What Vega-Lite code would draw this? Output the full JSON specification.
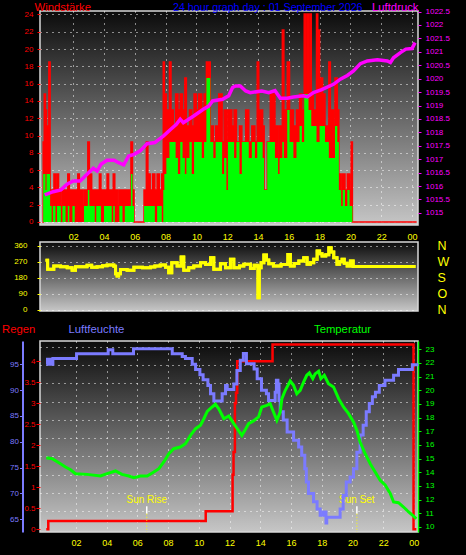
{
  "$schema": "https://vega.github.io/schema/vega-lite/v6.json",
  "background": "#000000",
  "padding": {"left": 0, "top": 0, "right": 21, "bottom": 8},
  "datasets": {
    "wind": [
      {"t":0.0,"g":0,"a":0},{"t":0.05,"g":9.25,"a":5.55},{"t":0.12,"g":14.8,"a":5.55},{"t":0.2,"g":12.95,"a":3.7},{"t":0.27,"g":11.1,"a":5.55},{"t":0.35,"g":5.55,"a":5.55},{"t":0.42,"g":18.5,"a":5.55},{"t":0.5,"g":3.7,"a":1.85},{"t":0.6,"g":1.85,"a":0},{"t":0.68,"g":3.7,"a":1.85},{"t":0.75,"g":5.55,"a":1.85},{"t":0.85,"g":3.7,"a":0},{"t":0.95,"g":5.55,"a":1.85},{"t":1.05,"g":3.7,"a":1.85},{"t":1.2,"g":1.85,"a":0},{"t":1.3,"g":3.7,"a":1.85},{"t":1.5,"g":3.7,"a":0},{"t":1.65,"g":5.55,"a":1.85},{"t":1.75,"g":3.7,"a":0},{"t":1.95,"g":3.7,"a":1.85},{"t":2.1,"g":3.7,"a":0},{"t":2.3,"g":5.55,"a":0},{"t":2.4,"g":3.7,"a":0},{"t":2.6,"g":1.85,"a":0},{"t":2.7,"g":3.7,"a":1.85},{"t":2.95,"g":9.25,"a":3.7},{"t":3.05,"g":5.55,"a":1.85},{"t":3.2,"g":3.7,"a":1.85},{"t":3.4,"g":3.7,"a":0},{"t":3.5,"g":3.7,"a":1.85},{"t":3.7,"g":5.55,"a":1.85},{"t":3.8,"g":3.7,"a":0},{"t":4.0,"g":3.7,"a":1.85},{"t":4.2,"g":5.55,"a":1.85},{"t":4.3,"g":3.7,"a":1.85},{"t":4.5,"g":3.7,"a":0},{"t":4.6,"g":5.55,"a":1.85},{"t":4.7,"g":3.7,"a":0},{"t":4.9,"g":1.85,"a":0},{"t":5.0,"g":3.7,"a":1.85},{"t":5.2,"g":3.7,"a":0},{"t":5.35,"g":3.7,"a":1.85},{"t":5.6,"g":3.7,"a":1.85},{"t":5.75,"g":9.25,"a":5.55},{"t":5.85,"g":3.7,"a":1.85},{"t":5.95,"g":0,"a":0},{"t":6.6,"g":3.7,"a":1.85},{"t":6.75,"g":9.25,"a":1.85},{"t":6.85,"g":5.55,"a":1.85},{"t":7.0,"g":3.7,"a":1.85},{"t":7.15,"g":5.55,"a":1.85},{"t":7.3,"g":3.7,"a":0},{"t":7.45,"g":5.55,"a":1.85},{"t":7.6,"g":3.7,"a":1.85},{"t":7.75,"g":5.55,"a":0},{"t":7.85,"g":18.5,"a":3.7},{"t":7.92,"g":14.8,"a":5.55},{"t":8.05,"g":12.95,"a":7.4},{"t":8.25,"g":18.5,"a":9.25},{"t":8.35,"g":12.95,"a":9.25},{"t":8.5,"g":11.1,"a":9.25},{"t":8.65,"g":14.8,"a":7.4},{"t":8.8,"g":12.95,"a":5.55},{"t":8.95,"g":14.8,"a":9.25},{"t":9.1,"g":12.95,"a":7.4},{"t":9.25,"g":16.65,"a":5.55},{"t":9.35,"g":11.1,"a":7.4},{"t":9.55,"g":12.95,"a":9.25},{"t":9.7,"g":11.1,"a":5.55},{"t":9.85,"g":14.8,"a":9.25},{"t":10.0,"g":12.95,"a":9.25},{"t":10.15,"g":14.8,"a":9.25},{"t":10.35,"g":12.95,"a":7.4},{"t":10.5,"g":14.8,"a":9.25},{"t":10.65,"g":18.5,"a":16.65},{"t":10.9,"g":11.1,"a":9.25},{"t":11.1,"g":9.25,"a":7.4},{"t":11.25,"g":11.1,"a":9.25},{"t":11.45,"g":14.8,"a":9.25},{"t":11.67,"g":9.25,"a":5.55},{"t":11.8,"g":12.95,"a":7.4},{"t":11.95,"g":3.7,"a":3.7},{"t":12.05,"g":12.95,"a":9.25},{"t":12.3,"g":11.1,"a":9.25},{"t":12.45,"g":12.95,"a":7.4},{"t":12.6,"g":9.25,"a":9.25},{"t":12.8,"g":11.1,"a":5.55},{"t":12.95,"g":9.25,"a":9.25},{"t":13.2,"g":12.95,"a":9.25},{"t":13.4,"g":9.25,"a":7.4},{"t":13.6,"g":11.1,"a":9.25},{"t":13.8,"g":9.25,"a":7.4},{"t":13.95,"g":18.5,"a":9.25},{"t":14.05,"g":12.95,"a":9.25},{"t":14.3,"g":11.1,"a":7.4},{"t":14.4,"g":3.7,"a":3.7},{"t":14.6,"g":9.25,"a":9.25},{"t":14.8,"g":14.8,"a":9.25},{"t":15.1,"g":11.1,"a":7.4},{"t":15.3,"g":5.55,"a":5.55},{"t":15.4,"g":11.1,"a":7.4},{"t":15.58,"g":22.2,"a":9.25},{"t":15.68,"g":12.95,"a":7.4},{"t":15.9,"g":18.5,"a":12.95},{"t":16.05,"g":12.95,"a":9.25},{"t":16.3,"g":11.1,"a":7.4},{"t":16.5,"g":12.95,"a":9.25},{"t":16.7,"g":14.8,"a":11.1},{"t":16.85,"g":12.95,"a":9.25},{"t":17.0,"g":24.05,"a":14.8},{"t":17.1,"g":14.8,"a":14.8},{"t":17.2,"g":24.05,"a":14.8},{"t":17.28,"g":14.8,"a":12.95},{"t":17.38,"g":24.05,"a":12.95},{"t":17.46,"g":14.8,"a":11.1},{"t":17.6,"g":12.95,"a":11.1},{"t":17.8,"g":24.05,"a":9.25},{"t":17.88,"g":14.8,"a":9.25},{"t":17.93,"g":22.2,"a":9.25},{"t":18.0,"g":16.65,"a":11.1},{"t":18.2,"g":14.8,"a":11.1},{"t":18.35,"g":11.1,"a":9.25},{"t":18.6,"g":18.5,"a":7.4},{"t":18.7,"g":12.95,"a":7.4},{"t":18.9,"g":11.1,"a":7.4},{"t":19.0,"g":16.65,"a":11.1},{"t":19.15,"g":12.95,"a":9.25},{"t":19.25,"g":5.55,"a":3.7},{"t":19.4,"g":1.85,"a":1.85},{"t":19.5,"g":5.55,"a":3.7},{"t":19.65,"g":3.7,"a":1.85},{"t":19.8,"g":5.55,"a":3.7},{"t":19.95,"g":3.7,"a":1.85},{"t":20.05,"g":9.25,"a":1.85},{"t":20.13,"g":0,"a":0},{"t":24.3,"g":0,"a":0}
    ],
    "pressure": [
      {"t":0.15,"p":1015.67},{"t":0.7,"p":1015.79},{"t":1.2,"p":1015.86},{"t":1.6,"p":1016.07},{"t":2.0,"p":1016.19},{"t":2.45,"p":1016.19},{"t":2.9,"p":1016.44},{"t":3.3,"p":1016.66},{"t":3.55,"p":1016.56},{"t":3.8,"p":1016.81},{"t":4.2,"p":1016.96},{"t":4.65,"p":1016.96},{"t":4.95,"p":1016.87},{"t":5.28,"p":1016.79},{"t":5.6,"p":1017.12},{"t":5.95,"p":1017.18},{"t":6.35,"p":1017.31},{"t":6.8,"p":1017.58},{"t":7.3,"p":1017.62},{"t":7.87,"p":1017.87},{"t":8.3,"p":1018.1},{"t":8.7,"p":1018.3},{"t":8.95,"p":1018.49},{"t":9.15,"p":1018.36},{"t":9.8,"p":1018.6},{"t":10.45,"p":1018.86},{"t":10.8,"p":1018.98},{"t":11.05,"p":1019.17},{"t":11.7,"p":1019.23},{"t":12.1,"p":1019.36},{"t":12.35,"p":1019.67},{"t":12.55,"p":1019.73},{"t":12.85,"p":1019.73},{"t":13.2,"p":1019.54},{"t":13.5,"p":1019.48},{"t":14.25,"p":1019.54},{"t":14.7,"p":1019.48},{"t":15.1,"p":1019.56},{"t":15.45,"p":1019.27},{"t":15.9,"p":1019.27},{"t":16.3,"p":1019.32},{"t":16.95,"p":1019.36},{"t":17.2,"p":1019.32},{"t":17.6,"p":1019.48},{"t":18.1,"p":1019.58},{"t":18.9,"p":1019.79},{"t":19.35,"p":1019.98},{"t":19.8,"p":1020.12},{"t":20.2,"p":1020.29},{"t":20.65,"p":1020.56},{"t":21.1,"p":1020.66},{"t":21.75,"p":1020.7},{"t":22.4,"p":1020.66},{"t":22.6,"p":1020.6},{"t":22.8,"p":1020.78},{"t":23.25,"p":1020.97},{"t":23.6,"p":1021.1},{"t":24.0,"p":1021.12},{"t":24.2,"p":1021.34}
    ],
    "dir": [
      {"t":0.2,"d":278},{"t":0.34,"d":228},{"t":0.74,"d":246},{"t":1.18,"d":242},{"t":1.61,"d":237},{"t":1.93,"d":222},{"t":2.15,"d":242},{"t":2.9,"d":250},{"t":3.2,"d":240},{"t":3.55,"d":242},{"t":3.9,"d":248},{"t":4.2,"d":252},{"t":4.64,"d":245},{"t":4.75,"d":203},{"t":4.85,"d":190},{"t":4.95,"d":203},{"t":5.07,"d":227},{"t":5.5,"d":222},{"t":5.94,"d":240},{"t":6.5,"d":236},{"t":7.02,"d":241},{"t":7.3,"d":246},{"t":7.65,"d":252},{"t":8.0,"d":240},{"t":8.2,"d":209},{"t":8.4,"d":265},{"t":8.75,"d":246},{"t":9.01,"d":297},{"t":9.18,"d":222},{"t":9.5,"d":237},{"t":9.83,"d":246},{"t":10.27,"d":265},{"t":10.6,"d":255},{"t":10.92,"d":293},{"t":11.13,"d":228},{"t":11.56,"d":259},{"t":11.89,"d":237},{"t":12.21,"d":284},{"t":12.43,"d":237},{"t":12.8,"d":246},{"t":13.08,"d":256},{"t":13.51,"d":233},{"t":13.75,"d":250},{"t":13.95,"d":246},{"t":14.0,"d":69},{"t":14.08,"d":237},{"t":14.2,"d":265},{"t":14.38,"d":308},{"t":14.55,"d":280},{"t":14.7,"d":259},{"t":15.0,"d":246},{"t":15.25,"d":246},{"t":15.5,"d":255},{"t":15.94,"d":311},{"t":16.1,"d":246},{"t":16.35,"d":260},{"t":16.65,"d":274},{"t":16.97,"d":293},{"t":17.19,"d":256},{"t":17.4,"d":265},{"t":17.62,"d":284},{"t":17.84,"d":330},{"t":18.0,"d":315},{"t":18.16,"d":302},{"t":18.4,"d":310},{"t":18.6,"d":349},{"t":18.75,"d":325},{"t":18.92,"d":293},{"t":19.13,"d":256},{"t":19.3,"d":270},{"t":19.46,"d":284},{"t":19.6,"d":262},{"t":19.79,"d":246},{"t":20.0,"d":274},{"t":20.18,"d":244},{"t":24.23,"d":244}
    ],
    "rain": [
      {"t":0.07,"r":0},{"t":0.2,"r":0.2},{"t":10.45,"r":0.43},{"t":12.2,"r":1.3},{"t":12.26,"r":1.84},{"t":12.35,"r":3.0},{"t":12.42,"r":3.25},{"t":12.5,"r":4.0},{"t":14.8,"r":4.4},{"t":23.98,"r":0},{"t":24.16,"r":0}
    ],
    "hum": [
      {"t":0.07,"h":95},{"t":0.15,"h":96},{"t":0.22,"h":95},{"t":0.3,"h":96},{"t":0.37,"h":95},{"t":0.5,"h":96.1},{"t":2.04,"h":97.05},{"t":4.1,"h":97.8},{"t":4.4,"h":97.05},{"t":5.75,"h":98},{"t":8.27,"h":97.05},{"t":8.92,"h":96.5},{"t":9.13,"h":96.1},{"t":9.57,"h":95},{"t":9.79,"h":94},{"t":10.07,"h":93},{"t":10.28,"h":92},{"t":10.59,"h":90.9},{"t":10.76,"h":89.3},{"t":10.98,"h":87.9},{"t":11.52,"h":89.3},{"t":11.74,"h":90.9},{"t":11.85,"h":90.1},{"t":12.28,"h":91.2},{"t":12.48,"h":93.8},{"t":12.7,"h":95.8},{"t":12.9,"h":97.1},{"t":13.1,"h":95.1},{"t":13.6,"h":94.1},{"t":13.8,"h":92.2},{"t":14.08,"h":90},{"t":14.4,"h":89.3},{"t":14.54,"h":88},{"t":14.97,"h":89.6},{"t":15.05,"h":91.9},{"t":15.15,"h":91.2},{"t":15.22,"h":88},{"t":15.3,"h":85.8},{"t":15.5,"h":84.2},{"t":15.75,"h":81.9},{"t":16.17,"h":80.3},{"t":16.5,"h":79},{"t":16.7,"h":77.4},{"t":16.9,"h":74.8},{"t":17.0,"h":72.2},{"t":17.14,"h":70},{"t":17.47,"h":68.4},{"t":17.7,"h":67},{"t":17.9,"h":65.8},{"t":18.1,"h":66.4},{"t":18.28,"h":64.3},{"t":18.33,"h":65.4},{"t":19.2,"h":67},{"t":19.4,"h":69.6},{"t":19.6,"h":72.2},{"t":19.85,"h":73.2},{"t":20.07,"h":74.8},{"t":20.29,"h":78},{"t":20.5,"h":81.3},{"t":20.7,"h":83.2},{"t":20.9,"h":85.8},{"t":21.1,"h":87.4},{"t":21.3,"h":88.7},{"t":21.5,"h":89.6},{"t":21.75,"h":90.9},{"t":22.12,"h":91.9},{"t":22.68,"h":92.9},{"t":23.0,"h":94},{"t":23.9,"h":94.9},{"t":24.3,"h":94.9}
    ],
    "temp": [
      {"t":0.07,"T":15.07},{"t":0.46,"T":15.0},{"t":0.89,"T":14.7},{"t":1.32,"T":14.39},{"t":1.65,"T":14.19},{"t":1.97,"T":13.9},{"t":2.73,"T":13.85},{"t":3.6,"T":13.73},{"t":4.03,"T":13.9},{"t":4.58,"T":14.1},{"t":5.0,"T":13.85},{"t":5.44,"T":13.73},{"t":5.77,"T":13.6},{"t":6.2,"T":13.73},{"t":6.64,"T":13.73},{"t":7.07,"T":14.02},{"t":7.4,"T":14.27},{"t":7.72,"T":14.76},{"t":8.05,"T":15.36},{"t":8.37,"T":15.73},{"t":8.8,"T":15.85},{"t":9.13,"T":16.09},{"t":9.46,"T":16.7},{"t":9.79,"T":17.19},{"t":10.11,"T":17.44},{"t":10.33,"T":17.92},{"t":10.55,"T":18.46},{"t":10.87,"T":18.78},{"t":11.08,"T":18.98},{"t":11.3,"T":18.65},{"t":11.63,"T":17.92},{"t":11.95,"T":18.12},{"t":12.28,"T":17.56},{"t":12.47,"T":17.24},{"t":12.8,"T":16.7},{"t":13.0,"T":17.07},{"t":13.24,"T":17.56},{"t":13.56,"T":17.76},{"t":13.89,"T":18.05},{"t":14.1,"T":18.78},{"t":14.43,"T":18.9},{"t":14.65,"T":19.02},{"t":14.86,"T":18.41},{"t":15.08,"T":17.8},{"t":15.3,"T":18.41},{"t":15.41,"T":19.39},{"t":15.63,"T":20.0},{"t":15.95,"T":20.68},{"t":16.17,"T":20.37},{"t":16.38,"T":19.75},{"t":16.6,"T":20.0},{"t":16.82,"T":20.6},{"t":17.03,"T":21.1},{"t":17.2,"T":21.27},{"t":17.42,"T":20.85},{"t":17.57,"T":21.2},{"t":17.8,"T":21.39},{"t":17.95,"T":20.85},{"t":18.17,"T":21.1},{"t":18.44,"T":20.48},{"t":18.77,"T":20.24},{"t":19.1,"T":19.39},{"t":19.42,"T":18.78},{"t":19.75,"T":18.29},{"t":20.07,"T":17.68},{"t":20.29,"T":17.07},{"t":20.5,"T":16.22},{"t":20.83,"T":15.36},{"t":21.16,"T":14.63},{"t":21.48,"T":14.02},{"t":21.81,"T":13.42},{"t":22.14,"T":13.05},{"t":22.47,"T":12.44},{"t":22.68,"T":11.83},{"t":23.0,"T":11.78},{"t":23.33,"T":11.46},{"t":23.66,"T":11.1},{"t":23.98,"T":10.8},{"t":24.16,"T":10.6}
    ],
    "sun": [
      {"t":6.61,"label":"Sun Rise"},{"t":20.29,"label":"Sun Set"}
    ]
  },
  "vconcat": [
    {
      "vconcat": [
        {
          "width": 378,
          "height": 214,
          "layer": [
            {
              "data": {"name": "wind"},
              "mark": {"type": "area", "color": "#ff0000", "interpolate": "step-after"},
              "encoding": {
                "x": {"field": "t", "type": "quantitative", "scale": {"domain": [-0.156, 24.39], "nice": false, "zero": false},
                  "axis": {"orient": "bottom", "values": [2,4,6,8,10,12,14,16,18,20,22,24], "labelExpr": "datum.value == 24 ? '00' : (datum.value < 10 ? '0' + datum.value : '' + datum.value)", "labelColor": "#ffff00", "labelFontSize": 9, "labelPadding": 7, "ticks": false, "domain": false, "grid": true, "title": null}},
                "y": {"field": "g", "type": "quantitative", "scale": {"domain": [-0.35, 24.4], "nice": false, "zero": false},
                  "axis": {"values": [0,2,4,6,8,10,12,14,16,18,20,22,24], "labelColor": "#ff0000", "labelFontSize": 8, "tickColor": "#ff0000", "tickSize": 3, "labelPadding": 4, "domain": false, "grid": true, "title": "Windstärke", "titleColor": "#ff0000", "titleFontSize": 11.3, "titleAngle": 0, "titleAlign": "left", "titleBaseline": "alphabetic", "titleX": -6, "titleY": -1}},
                "y2": {"datum": 0}
              }
            },
            {
              "data": {"name": "wind"},
              "mark": {"type": "line", "color": "#ff0000", "strokeWidth": 1.5, "interpolate": "step-after"},
              "encoding": {
                "x": {"field": "t", "type": "quantitative", "axis": null},
                "y": {"field": "g", "type": "quantitative", "scale": {"domain": [-0.35, 24.4], "nice": false, "zero": false}, "axis": null}
              }
            },
            {
              "data": {"name": "wind"},
              "mark": {"type": "area", "color": "#00ff00", "interpolate": "step-after"},
              "encoding": {
                "x": {"field": "t", "type": "quantitative", "axis": null},
                "y": {"field": "a", "type": "quantitative", "scale": {"domain": [-0.35, 24.4], "nice": false, "zero": false}, "axis": null},
                "y2": {"datum": 0}
              }
            },
            {
              "data": {"name": "pressure"},
              "mark": {"type": "line", "color": "#ff00ff", "strokeWidth": 3.5},
              "encoding": {
                "x": {"field": "t", "type": "quantitative",
                  "axis": {"orient": "top", "labels": false, "ticks": false, "domain": false, "grid": false, "title": "24 hour graph day : 01 September 2026", "titleColor": "#0000ff", "titleFontSize": 10.7, "titleAlign": "left", "titleBaseline": "alphabetic", "titleX": 132.5, "titleY": -1}},
                "y": {"field": "p", "type": "quantitative", "scale": {"domain": [1014.55, 1022.52], "nice": false, "zero": false},
                  "axis": {"orient": "right", "values": [1015,1015.5,1016,1016.5,1017,1017.5,1018,1018.5,1019,1019.5,1020,1020.5,1021,1021.5,1022,1022.5], "format": ".1~f", "labelColor": "#ff00ff", "labelFontSize": 8, "tickColor": "#ff00ff", "tickSize": 3, "labelPadding": 4, "domain": false, "grid": false, "title": "Luftdruck", "titleColor": "#ff00ff", "titleFontSize": 11.3, "titleAngle": 0, "titleAlign": "left", "titleBaseline": "alphabetic", "titleX": -46.5, "titleY": -1}}
              }
            }
          ],
          "resolve": {"scale": {"y": "independent"}}
        },
        {
          "width": 378,
          "height": 69,
          "data": {"name": "dir"},
          "layer": [
            {
              "mark": {"type": "line", "color": "#ffff00", "strokeWidth": 3, "interpolate": "step-after"},
              "encoding": {
                "x": {"field": "t", "type": "quantitative", "scale": {"domain": [-0.156, 24.39], "nice": false, "zero": false}, "axis": null},
                "y": {"field": "d", "type": "quantitative", "scale": {"domain": [-5.6, 380.7], "nice": false, "zero": false},
                  "axis": {"values": [0,90,180,270,360], "labelColor": "#ffff00", "labelFontSize": 8, "tickColor": "#ffff00", "tickSize": 3, "labelPadding": 10, "domain": false, "grid": true, "title": null}}
              }
            },
            {
              "mark": {"type": "line", "color": "#ffff00", "strokeWidth": 3, "interpolate": "step-after"},
              "encoding": {
                "x": {"field": "t", "type": "quantitative", "axis": null},
                "y": {"field": "d", "type": "quantitative",
                  "axis": {"orient": "right", "values": [0,90,180,270,360], "labelExpr": "datum.value == 270 ? 'W' : datum.value == 180 ? 'S' : datum.value == 90 ? 'O' : 'N'", "labelColor": "#ffff00", "labelFontSize": 12.5, "ticks": false, "labelPadding": 19, "domain": false, "grid": false, "title": null}}
              }
            }
          ],
          "resolve": {"axis": {"y": "independent"}}
        }
      ],
      "spacing": 17,
      "bounds": "flush"
    },
    {
      "width": 378,
      "height": 191,
      "layer": [
        {
          "data": {"name": "rain"},
          "mark": {"type": "line", "color": "#ff0000", "strokeWidth": 2.5, "interpolate": "step-after"},
          "encoding": {
            "x": {"field": "t", "type": "quantitative", "scale": {"domain": [-0.339, 24.27], "nice": false, "zero": false},
              "axis": {"orient": "bottom", "values": [2,4,6,8,10,12,14,16,18,20,22,24], "labelExpr": "datum.value == 24 ? '00' : (datum.value < 10 ? '0' + datum.value : '' + datum.value)", "labelColor": "#ffff00", "labelFontSize": 9, "labelPadding": 6, "ticks": false, "domain": false, "grid": true, "title": null}},
            "y": {"field": "r", "type": "quantitative", "scale": {"domain": [-0.064, 4.483], "nice": false, "zero": false},
              "axis": {"values": [0,0.5,1,1.5,2,2.5,3,3.5,4], "format": ".1~f", "labelColor": "#ff0000", "labelFontSize": 8, "tickColor": "#ff0000", "tickSize": 4, "labelPadding": 1, "domain": false, "grid": false, "title": "Regen", "titleColor": "#ff0000", "titleFontSize": 11.3, "titleAngle": 0, "titleAlign": "left", "titleBaseline": "alphabetic", "titleX": -38.5, "titleY": -9}}
          }
        },
        {
          "data": {"name": "sun"},
          "mark": {"type": "rule", "color": "#ffffff", "strokeWidth": 1.5},
          "encoding": {
            "x": {"field": "t", "type": "quantitative", "axis": null},
            "y": {"datum": 0.548, "type": "quantitative", "scale": {"domain": [-0.064, 4.483], "nice": false, "zero": false}, "axis": null},
            "y2": {"datum": 0.371}
          }
        },
        {
          "data": {"name": "sun"},
          "mark": {"type": "rule", "color": "#ffff00", "strokeWidth": 1, "strokeDash": [1, 2]},
          "encoding": {
            "x": {"field": "t", "type": "quantitative", "axis": null},
            "y": {"datum": 0.371, "type": "quantitative", "scale": {"domain": [-0.064, 4.483], "nice": false, "zero": false}, "axis": null},
            "y2": {"datum": -0.064}
          }
        },
        {
          "data": {"name": "sun"},
          "mark": {"type": "text", "color": "#ffff00", "font": "'Liberation Sans Narrow', 'Liberation Sans', sans-serif", "fontSize": 10, "baseline": "middle", "align": "center"},
          "encoding": {
            "x": {"field": "t", "type": "quantitative", "axis": null},
            "y": {"datum": 0.69, "type": "quantitative", "scale": {"domain": [-0.064, 4.483], "nice": false, "zero": false}, "axis": null},
            "text": {"field": "label"}
          }
        },
        {
          "data": {"name": "hum"},
          "mark": {"type": "line", "color": "#7b7bff", "strokeWidth": 3, "interpolate": "step-after"},
          "encoding": {
            "x": {"field": "t", "type": "quantitative", "axis": null},
            "y": {"field": "h", "type": "quantitative", "scale": {"domain": [62.54, 99.51], "nice": false, "zero": false},
              "axis": {"orient": "left", "offset": 17.5, "values": [65,70,75,80,85,90,95], "labelColor": "#7b7bff", "labelFontSize": 8, "tickColor": "#7b7bff", "tickSize": 3, "labelPadding": 1, "domain": true, "domainColor": "#7b7bff", "domainWidth": 2, "grid": false, "title": "Luftfeuchte", "titleColor": "#7b7bff", "titleFontSize": 11.3, "titleAngle": 0, "titleAlign": "left", "titleBaseline": "alphabetic", "titleX": 45.5, "titleY": -9}}
          }
        },
        {
          "data": {"name": "temp"},
          "mark": {"type": "line", "color": "#00ff00", "strokeWidth": 3},
          "encoding": {
            "x": {"field": "t", "type": "quantitative", "axis": null},
            "y": {"field": "T", "type": "quantitative", "scale": {"domain": [9.634, 23.607], "nice": false, "zero": false},
              "axis": {"orient": "right", "values": [10,11,12,13,14,15,16,17,18,19,20,21,22,23], "labelColor": "#00ff00", "labelFontSize": 8, "tickColor": "#00ff00", "tickSize": 3, "labelPadding": 4, "domain": true, "domainColor": "#00ff00", "domainWidth": 1.5, "grid": false, "title": "Temperatur", "titleColor": "#00ff00", "titleFontSize": 11.3, "titleAngle": 0, "titleAlign": "left", "titleBaseline": "alphabetic", "titleX": -104.5, "titleY": -9}}
          }
        },
        {
          "data": {"name": "sun"},
          "mark": {"type": "rule", "opacity": 0},
          "encoding": {
            "x": {"field": "t", "type": "quantitative", "axis": null},
            "y": {"datum": 0, "type": "quantitative", "scale": {"domain": [-1.126, 9.311], "nice": false, "zero": false},
              "axis": {"orient": "left", "values": [0,1,2,3,4,5,6,7,8,9], "labels": false, "ticks": false, "domain": false, "grid": true, "title": null}}
          }
        }
      ],
      "resolve": {"scale": {"y": "independent"}, "axis": {"x": "independent"}}
    }
  ],
  "spacing": 4,
  "bounds": "full",
  "config": {
    "view": {
      "fill": {"gradient": "linear", "x1": 0, "y1": 0, "x2": 0, "y2": 1, "stops": [{"offset": 0, "color": "#0b0b0b"}, {"offset": 1, "color": "#c6c6c6"}]},
      "stroke": "#d8d8d8",
      "strokeWidth": 1.5
    },
    "axis": {
      "labelFont": "'Liberation Sans Narrow', 'Liberation Sans', sans-serif",
      "titleFont": "Liberation Sans",
      "titleFontWeight": "normal",
      "titlePadding": 0,
      "gridColor": "#ffffff",
      "gridDash": [1, 5],
      "gridOpacity": 1,
      "gridWidth": 1,
      "labelOverlap": false,
      "labelFlush": false
    }
  }
}
